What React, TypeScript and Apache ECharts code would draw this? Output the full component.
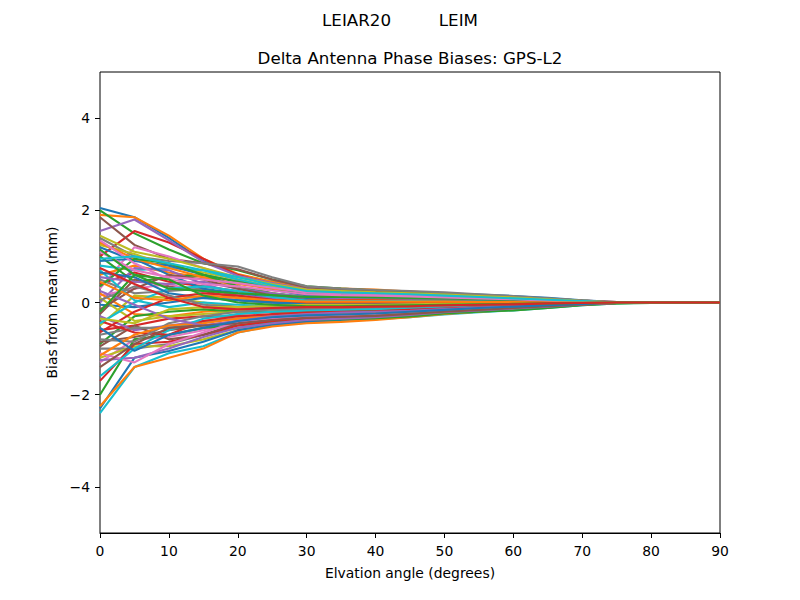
import React, { useEffect, useRef } from "react";
import * as echarts from "echarts";

const elevations = [0, 5, 10, 15, 20, 25, 30, 35, 40, 45, 50, 55, 60, 65, 70, 75, 80, 85, 90];
const xTicks = [0, 10, 20, 30, 40, 50, 60, 70, 80, 90];

const l01 = [2.05, 1.85, 1.4, 0.9, 0.6, 0.45, 0.3, 0.28, 0.25, 0.22, 0.2, 0.17, 0.14, 0.1, 0.05, 0.01, 0, 0, 0];
const l02 = [1.9, 1.85, 1.45, 0.95, 0.62, 0.45, 0.32, 0.3, 0.28, 0.24, 0.2, 0.16, 0.12, 0.08, 0.04, 0.01, -0.01, 0, 0];
const l03 = [2.0, 1.5, 1.15, 0.85, 0.7, 0.5, 0.35, 0.3, 0.26, 0.22, 0.18, 0.15, 0.12, 0.08, 0.04, 0, 0, 0, 0];
const l04 = [1.0, 1.55, 1.3, 0.95, 0.6, 0.4, 0.28, 0.22, 0.2, 0.17, 0.14, 0.12, 0.1, 0.07, 0.03, 0, 0, 0, 0];
const l05 = [1.55, 1.8, 1.35, 0.88, 0.58, 0.42, 0.3, 0.26, 0.22, 0.2, 0.17, 0.14, 0.11, 0.08, 0.04, 0.01, 0, 0, 0];
const l06 = [1.85, 1.25, 0.95, 0.85, 0.72, 0.5, 0.33, 0.28, 0.24, 0.2, 0.16, 0.13, 0.1, 0.06, 0.03, 0, 0, 0, 0];
const l07 = [0.3, 1.2, 1.0, 0.75, 0.5, 0.3, 0.15, 0.1, 0.08, 0.06, 0.05, 0.04, 0.03, 0.02, 0.01, 0, 0, 0, 0];
const l08 = [1.4, 1.0, 0.9, 0.85, 0.78, 0.55, 0.35, 0.3, 0.27, 0.25, 0.22, 0.18, 0.14, 0.09, 0.04, 0, 0, 0, 0];
const l09 = [1.25, 1.05, 0.8, 0.65, 0.5, 0.35, 0.22, 0.2, 0.18, 0.15, 0.12, 0.1, 0.08, 0.05, 0.02, 0, 0, 0, 0];
const l10 = [0.8, 0.7, 0.75, 0.7, 0.5, 0.32, 0.2, 0.17, 0.15, 0.13, 0.1, 0.08, 0.06, 0.04, 0.02, 0, 0, 0, 0];
const l11 = [1.2, 0.9, 0.8, 0.6, 0.45, 0.28, 0.15, 0.13, 0.12, 0.1, 0.08, 0.07, 0.05, 0.03, 0.01, 0, 0, 0, 0];
const l12 = [0.6, 0.8, 0.65, 0.55, 0.35, 0.2, 0.1, 0.08, 0.07, 0.06, 0.05, 0.04, 0.03, 0.02, 0.01, 0, 0, 0, 0];
const l13 = [1.0, 0.45, 0.55, 0.6, 0.45, 0.3, 0.18, 0.15, 0.12, 0.1, 0.09, 0.07, 0.05, 0.03, 0.01, 0, 0, 0, 0];
const l14 = [0.4, 0.65, 0.45, 0.35, 0.25, 0.12, 0.05, 0.05, 0.04, 0.04, 0.03, 0.03, 0.02, 0.01, 0, 0, 0, 0, 0];
const l15 = [0.0, 0.75, 0.7, 0.4, 0.2, 0.08, 0.0, 0.0, 0.0, 0.01, 0.01, 0.01, 0.0, 0, 0, 0, 0, 0, 0];
const l16 = [-0.25, 0.5, 0.35, 0.25, 0.1, 0.02, -0.05, -0.05, -0.04, -0.03, -0.02, -0.02, -0.01, -0.01, 0, 0, 0, 0, 0];
const l17 = [0.15, 0.3, 0.4, 0.2, 0.05, -0.02, -0.08, -0.08, -0.07, -0.06, -0.05, -0.04, -0.03, -0.02, -0.01, 0, 0, 0, 0];
const l18 = [0.5, 0.2, 0.25, 0.3, 0.15, 0.05, -0.02, -0.02, -0.02, -0.02, -0.01, -0.01, 0, 0, 0, 0, 0, 0, 0];
const l19 = [-0.5, 0.15, 0.1, 0.0, -0.1, -0.12, -0.15, -0.14, -0.12, -0.1, -0.08, -0.06, -0.05, -0.03, -0.01, 0, 0, 0, 0];
const l20 = [0.7, 0.05, -0.1, 0.0, -0.05, -0.08, -0.1, -0.1, -0.09, -0.08, -0.06, -0.05, -0.04, -0.02, -0.01, 0, 0, 0, 0];
const l21 = [-0.05, -0.1, 0.0, 0.1, 0.05, 0.0, -0.05, -0.05, -0.05, -0.04, -0.03, -0.03, -0.02, -0.01, 0, 0, 0, 0, 0];
const l22 = [0.2, -0.25, -0.3, -0.2, -0.15, -0.15, -0.18, -0.17, -0.15, -0.13, -0.1, -0.08, -0.06, -0.04, -0.02, 0, 0, 0, 0];
const l23 = [-0.9, -0.3, -0.2, -0.15, -0.2, -0.2, -0.2, -0.18, -0.16, -0.14, -0.12, -0.1, -0.08, -0.05, -0.02, 0, 0, 0, 0];
const l24 = [-0.6, -0.5, -0.35, -0.3, -0.3, -0.28, -0.25, -0.23, -0.2, -0.18, -0.15, -0.12, -0.1, -0.06, -0.03, 0, 0, 0, 0];
const l25 = [-0.3, -0.6, -0.5, -0.4, -0.35, -0.3, -0.28, -0.26, -0.24, -0.2, -0.16, -0.13, -0.1, -0.06, -0.03, 0, 0, 0, 0];
const l26 = [-0.85, -0.75, -0.6, -0.5, -0.4, -0.35, -0.32, -0.3, -0.28, -0.24, -0.2, -0.16, -0.12, -0.08, -0.04, -0.01, 0, 0, 0];
const l27 = [-1.3, -0.8, -0.75, -0.6, -0.45, -0.4, -0.36, -0.34, -0.32, -0.27, -0.22, -0.18, -0.14, -0.09, -0.04, -0.01, 0, 0, 0];
const l28 = [-1.0, -1.0, -0.9, -0.7, -0.55, -0.45, -0.4, -0.37, -0.34, -0.28, -0.22, -0.18, -0.15, -0.1, -0.05, -0.01, -0.01, 0, 0];
const l29 = [-1.2, -0.95, -0.95, -0.8, -0.6, -0.48, -0.42, -0.4, -0.36, -0.3, -0.24, -0.2, -0.16, -0.11, -0.05, -0.02, -0.01, 0, 0];
const l30 = [-2.4, -1.4, -1.1, -0.95, -0.65, -0.5, -0.44, -0.4, -0.36, -0.32, -0.26, -0.21, -0.17, -0.12, -0.06, -0.02, -0.01, 0, 0];
const l31 = [-2.3, -1.2, -1.05, -0.85, -0.6, -0.48, -0.42, -0.38, -0.34, -0.28, -0.22, -0.18, -0.14, -0.1, -0.05, -0.01, 0, 0, 0];
const l32 = [-2.25, -1.4, -1.2, -1.0, -0.65, -0.52, -0.45, -0.42, -0.38, -0.32, -0.25, -0.2, -0.16, -0.11, -0.05, -0.01, 0, 0, 0];
const l33 = [-2.0, -0.8, -0.7, -0.55, -0.5, -0.42, -0.38, -0.36, -0.34, -0.3, -0.24, -0.2, -0.17, -0.12, -0.06, -0.02, 0, 0, 0];
const l34 = [-1.7, -0.9, -0.85, -0.7, -0.5, -0.4, -0.35, -0.32, -0.3, -0.25, -0.2, -0.16, -0.12, -0.08, -0.04, -0.01, 0, 0, 0];
const l35 = [-1.25, -1.2, -1.0, -0.75, -0.55, -0.45, -0.38, -0.35, -0.32, -0.27, -0.21, -0.17, -0.13, -0.09, -0.04, -0.01, 0, 0, 0];
const l36 = [-0.95, -0.5, -0.8, -0.7, -0.45, -0.36, -0.3, -0.28, -0.26, -0.22, -0.18, -0.14, -0.11, -0.07, -0.03, 0, 0, 0, 0];
const l37 = [-1.1, -1.3, -0.9, -0.65, -0.42, -0.34, -0.3, -0.28, -0.25, -0.2, -0.15, -0.12, -0.09, -0.06, -0.03, 0, 0, 0, 0];
const l38 = [-0.7, -0.55, -0.55, -0.45, -0.25, -0.2, -0.15, -0.15, -0.14, -0.12, -0.1, -0.08, -0.06, -0.04, -0.02, 0, 0, 0, 0];
const l39 = [0.1, -0.4, -0.3, -0.25, -0.2, -0.12, -0.08, -0.07, -0.06, -0.05, -0.04, -0.03, -0.02, -0.01, 0, 0, 0, 0, 0];
const l40 = [-1.6, -1.0, -0.6, -0.35, -0.25, -0.2, -0.18, -0.16, -0.14, -0.12, -0.1, -0.08, -0.06, -0.04, -0.02, 0, 0, 0, 0];
const l41 = [0.9, 0.95, 0.6, 0.3, 0.2, 0.14, 0.1, 0.1, 0.1, 0.09, 0.08, 0.07, 0.06, 0.04, 0.02, 0, 0, 0, 0];
const l42 = [1.3, 0.95, 0.75, 0.55, 0.4, 0.3, 0.25, 0.23, 0.2, 0.17, 0.14, 0.12, 0.1, 0.06, 0.03, 0, 0, 0, 0];
const l43 = [0.35, 0.95, 0.85, 0.6, 0.35, 0.2, 0.12, 0.12, 0.11, 0.1, 0.08, 0.07, 0.05, 0.03, 0.01, 0, 0, 0, 0];
const l44 = [-0.4, -0.65, -0.7, -0.4, -0.3, -0.25, -0.22, -0.2, -0.19, -0.16, -0.13, -0.1, -0.08, -0.05, -0.02, 0, 0, 0, 0];
const l45 = [0.55, 0.45, 0.4, 0.45, 0.3, 0.2, 0.12, 0.1, 0.1, 0.09, 0.08, 0.06, 0.05, 0.03, 0.01, 0, 0, 0, 0];
const l46 = [-0.15, 0.3, 0.6, 0.5, 0.3, 0.15, 0.05, 0.03, 0.03, 0.03, 0.03, 0.02, 0.02, 0.01, 0, 0, 0, 0, 0];
const l47 = [1.1, 0.7, 0.55, 0.5, 0.42, 0.32, 0.22, 0.2, 0.18, 0.16, 0.13, 0.1, 0.08, 0.05, 0.02, 0, 0, 0, 0];
const l48 = [-0.8, -0.85, -0.45, -0.3, -0.2, -0.15, -0.12, -0.11, -0.1, -0.09, -0.07, -0.06, -0.04, -0.03, -0.01, 0, 0, 0, 0];
const l49 = [1.45, 1.1, 0.95, 0.75, 0.55, 0.4, 0.28, 0.25, 0.22, 0.2, 0.17, 0.14, 0.11, 0.07, 0.03, 0, 0, 0, 0];
const l50 = [-0.45, 0.0, 0.3, 0.35, 0.25, 0.12, 0.04, 0.03, 0.03, 0.03, 0.02, 0.02, 0.01, 0.01, 0, 0, 0, 0, 0];
const l51 = [0.65, 0.55, 0.2, 0.1, 0.05, 0.0, -0.03, -0.03, -0.03, -0.02, -0.02, -0.01, -0.01, 0, 0, 0, 0, 0, 0];
const l52 = [-1.15, -0.7, -0.5, -0.45, -0.35, -0.3, -0.26, -0.25, -0.23, -0.2, -0.16, -0.13, -0.1, -0.06, -0.03, 0, 0, 0, 0];
const l53 = [1.15, 0.6, 0.3, 0.25, 0.2, 0.16, 0.12, 0.12, 0.11, 0.1, 0.09, 0.07, 0.06, 0.04, 0.02, 0, 0, 0, 0];
const l54 = [-0.65, -0.2, 0.1, 0.2, 0.15, 0.06, 0.0, 0.0, 0.0, 0.0, 0.0, 0.0, 0, 0, 0, 0, 0, 0, 0];
const l55 = [0.25, -0.05, -0.35, -0.5, -0.4, -0.3, -0.25, -0.22, -0.2, -0.18, -0.14, -0.11, -0.08, -0.05, -0.02, 0, 0, 0, 0];
const l56 = [-1.4, -0.9, -0.55, -0.5, -0.45, -0.38, -0.33, -0.31, -0.29, -0.25, -0.2, -0.16, -0.12, -0.08, -0.04, 0, 0, 0, 0];
const l57 = [1.35, 0.85, 0.5, 0.4, 0.35, 0.26, 0.18, 0.16, 0.15, 0.13, 0.11, 0.09, 0.07, 0.04, 0.02, 0, 0, 0, 0];
const l58 = [0.05, 0.35, 0.15, -0.05, -0.1, -0.1, -0.1, -0.1, -0.09, -0.08, -0.07, -0.05, -0.04, -0.02, -0.01, 0, 0, 0, 0];
const l59 = [-0.35, -0.45, -0.15, -0.1, -0.1, -0.07, -0.05, -0.05, -0.05, -0.04, -0.03, -0.02, -0.02, -0.01, 0, 0, 0, 0, 0];
const l60 = [0.95, 1.0, 0.85, 0.7, 0.55, 0.38, 0.25, 0.22, 0.2, 0.18, 0.15, 0.12, 0.09, 0.06, 0.03, 0, 0, 0, 0];
const l61 = [-0.55, -1.05, -0.7, -0.55, -0.4, -0.32, -0.28, -0.26, -0.24, -0.2, -0.16, -0.12, -0.09, -0.06, -0.03, 0, 0, 0, 0];
const l62 = [0.45, 0.1, 0.05, 0.15, 0.1, 0.05, 0.02, 0.02, 0.02, 0.02, 0.02, 0.01, 0.01, 0, 0, 0, 0, 0, 0];
const l63 = [-0.2, 0.6, 0.5, 0.15, 0.0, -0.05, -0.08, -0.08, -0.07, -0.06, -0.05, -0.04, -0.03, -0.02, -0.01, 0, 0, 0, 0];
const l64 = [0.75, 0.4, 0.1, -0.1, -0.15, -0.12, -0.1, -0.1, -0.09, -0.08, -0.06, -0.05, -0.04, -0.02, -0.01, 0, 0, 0, 0];

const lines = [
  l01, l02, l03, l04, l05, l06, l07, l08, l09, l10, l11, l12, l13, l14, l15, l16,
  l17, l18, l19, l20, l21, l22, l23, l24, l25, l26, l27, l28, l29, l30, l31, l32,
  l33, l34, l35, l36, l37, l38, l39, l40, l41, l42, l43, l44, l45, l46, l47, l48,
  l49, l50, l51, l52, l53, l54, l55, l56, l57, l58, l59, l60, l61, l62, l63, l64,
];

const mplColors = ["#1f77b4", "#ff7f0e", "#2ca02c", "#d62728", "#9467bd", "#8c564b", "#e377c2", "#7f7f7f", "#bcbd22", "#17becf"];

const FONT = "DejaVu Sans";
const minus = (v: number) => String(v).replace("-", "\u2212");

export default function App() {
  const ref = useRef<HTMLDivElement>(null);
  useEffect(() => {
    if (!ref.current) return;
    const chart = echarts.init(ref.current, undefined, { renderer: "svg" });
    const OFF = 8;
    const L = 100 - OFF, T = 72 - OFF, W = 620, H = 461;
    const unit = H / 10;
    const option: any = {
      animation: false,
      color: mplColors,
      backgroundColor: "#ffffff",
      textStyle: { fontFamily: FONT },
      graphic: [
        { type: "text", x: 400 - OFF, y: 20 - OFF, style: { text: "LEIAR20         LEIM", fontSize: 16.7, fontFamily: FONT, fill: "#000", textAlign: "center", textVerticalAlign: "middle" } },
        { type: "text", x: 410 - OFF, y: 58 - OFF, style: { text: "Delta Antenna Phase Biases: GPS-L2", fontSize: 16.7, fontFamily: FONT, fill: "#000", textAlign: "center", textVerticalAlign: "middle" } },
      ],
      grid: [
        { left: L, top: T, width: W, height: H, show: true, borderColor: "#000", borderWidth: 1, backgroundColor: "transparent", containLabel: false },
        { left: L, top: T + unit, width: W, height: H - 2 * unit, show: false, containLabel: false },
      ],
      xAxis: [
        {
          type: "value", gridIndex: 0, min: 0, max: 90, interval: 10,
          axisLine: { show: true, onZero: false, lineStyle: { color: "#000", width: 1 } },
          axisTick: { show: true, inside: false, length: 5, lineStyle: { color: "#000" } },
          axisLabel: { show: true, color: "#000", fontSize: 13.9, fontFamily: FONT, margin: 11,
            customValues: xTicks, formatter: (v: number) => minus(v) },
          splitLine: { show: false },
          name: "Elvation angle (degrees)", nameLocation: "middle", nameGap: 33,
          nameTextStyle: { color: "#000", fontSize: 13.9, fontFamily: FONT },
        },
        { type: "value", gridIndex: 1, min: 0, max: 90, show: false, axisLine: { onZero: false } },
      ],
      yAxis: [
        { type: "value", gridIndex: 0, min: -5, max: 5, show: false, axisLine: { onZero: false }, splitLine: { show: false } },
        {
          type: "value", gridIndex: 1, min: -4, max: 4, interval: 2,
          axisLine: { show: false, onZero: false },
          axisTick: { show: true, inside: false, length: 5, lineStyle: { color: "#000" } },
          axisLabel: { show: true, color: "#000", fontSize: 13.9, fontFamily: FONT, margin: 10,
            formatter: (v: number) => minus(v) },
          splitLine: { show: false },
          name: "Bias from mean (mm)", nameLocation: "middle", nameGap: 31,
          nameTextStyle: { color: "#000", fontSize: 13.9, fontFamily: FONT },
        },
      ],
      series: lines.map((vals, i) => ({
        type: "line",
        name: "az" + i,
        xAxisIndex: 0,
        yAxisIndex: 0,
        data: elevations.map((e, j) => [e, vals[j]]),
        showSymbol: false,
        symbol: "none",
        silent: true,
        lineStyle: { width: 2.1 },
        emphasis: { disabled: true },
        z: 2,
      })),
    };
    chart.setOption(option);
    return () => chart.dispose();
  }, []);
  return <div ref={ref} style={{ width: 800, height: 600 }} />;
}
